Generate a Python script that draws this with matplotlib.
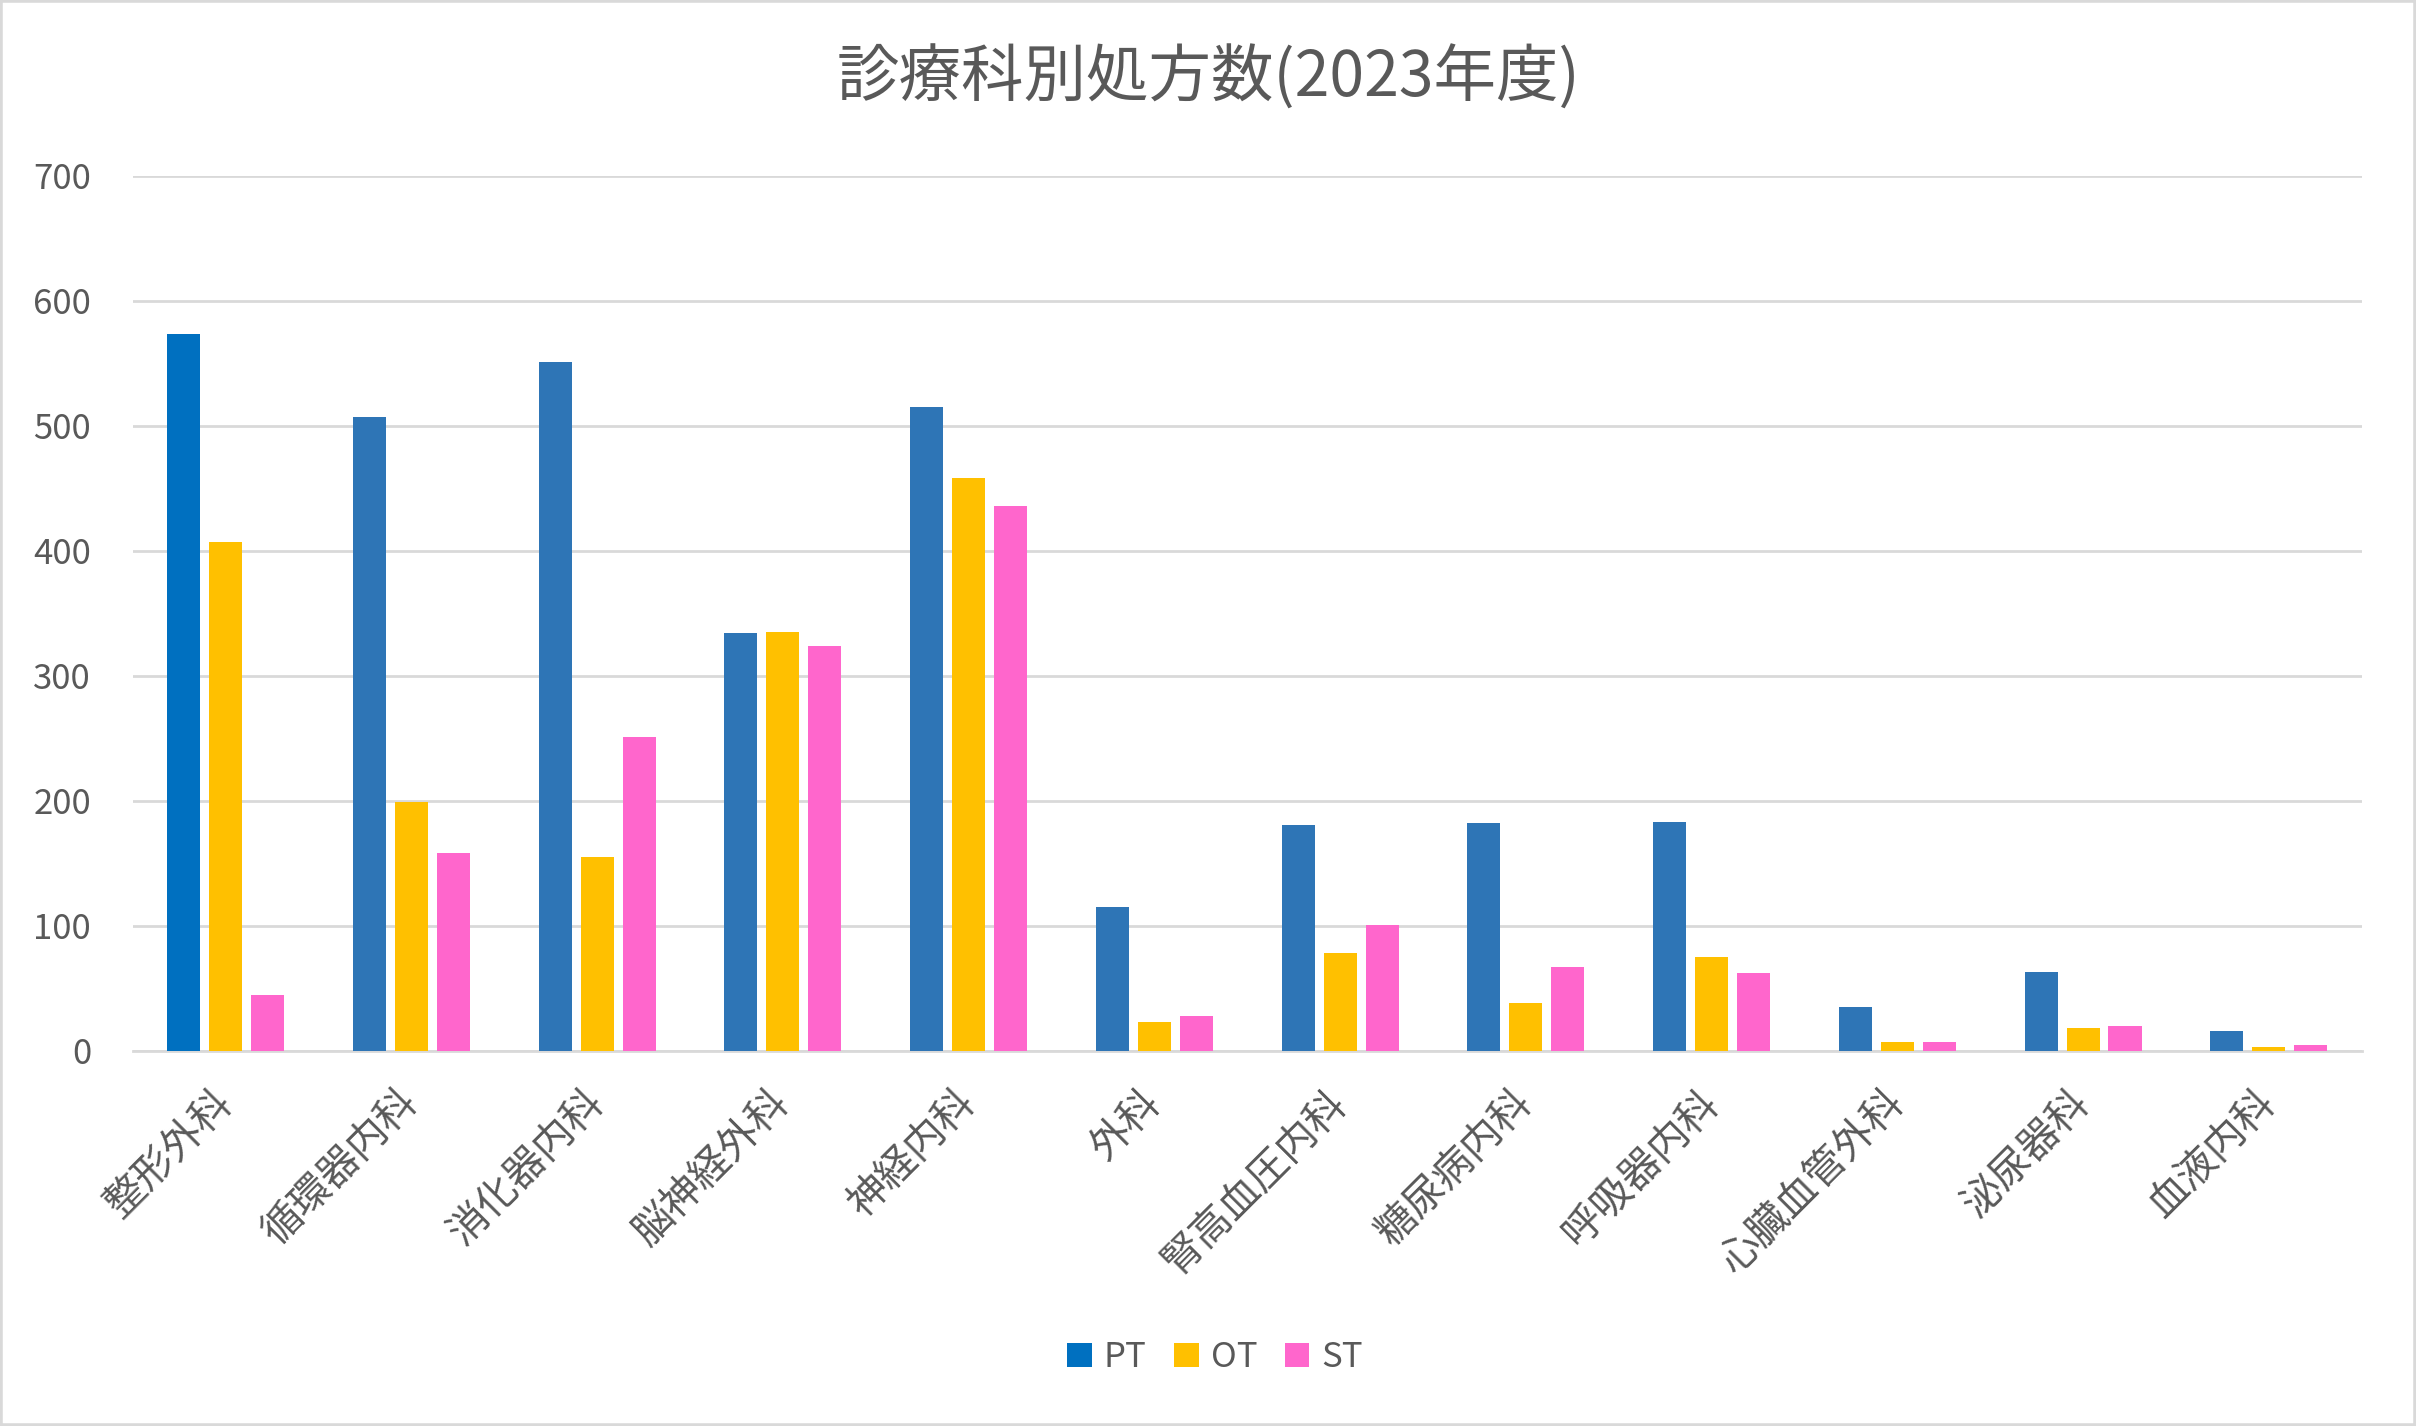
import matplotlib.pyplot as plt
import numpy as np
from matplotlib.patches import Rectangle

plt.rcParams['font.family'] = ['Noto Sans CJK JP', 'DejaVu Sans']

departments = ['整形外科', '循環器内科', '消化器内科', '脳神経外科', '神経内科', '外科',
               '腎高血圧内科', '糖尿病内科', '呼吸器内科', '心臓血管外科', '泌尿器科', '血液内科']
pt = [573, 507, 551, 334, 515, 115, 181, 182, 183, 35, 63, 16]
ot = [407, 199, 155, 335, 458, 23, 78, 38, 75, 7, 18, 3]
st = [45, 158, 251, 324, 436, 28, 101, 67, 62, 7, 20, 5]
yticks = [0, 100, 200, 300, 400, 500, 600, 700]


def main():
    text_color = '#595959'
    grid_color = '#D9D9D9'

    fig = plt.figure(figsize=(24.16, 14.26), dpi=100)
    ax = fig.add_axes([0.055, 0.263, 0.9225, 0.6138])

    x = np.arange(len(departments))
    width = 0.178
    step = 0.226

    pt_colors = ['#0070C0'] + ['#2E75B6'] * (len(pt) - 1)
    ax.bar(x - step, pt, width, color=pt_colors, label='PT', zorder=3)
    ax.bar(x, ot, width, color='#FFC000', label='OT', zorder=3)
    ax.bar(x + step, st, width, color='#FF66CC', label='ST', zorder=3)

    ax.set_xlim(-0.5, len(departments) - 0.5)
    ax.set_ylim(0, 700)
    ax.set_yticks(yticks)
    ax.set_yticklabels([str(v) for v in yticks])
    ax.yaxis.grid(True, color=grid_color, linewidth=2)
    ax.set_axisbelow(True)

    for side in ['top', 'right', 'left']:
        ax.spines[side].set_visible(False)
    ax.spines['bottom'].set_color(grid_color)
    ax.spines['bottom'].set_linewidth(2)

    ax.set_xticks(x)
    ax.set_xticklabels(departments, rotation=45, ha='right', va='center',
                       rotation_mode='anchor', fontsize=29, color=text_color)
    ax.tick_params(axis='x', length=0, pad=33)
    ax.tick_params(axis='y', length=0, pad=30, labelsize=25, labelcolor=text_color)

    fig.suptitle('診療科別処方数(2023年度)', fontsize=45, color=text_color, y=0.968)

    leg = fig.legend(loc='center', bbox_to_anchor=(0.503, 0.048), ncol=3, frameon=False,
                     fontsize=25, handlelength=0.7, handleheight=0.7,
                     handletextpad=0.35, columnspacing=0.8)
    for t in leg.get_texts():
        t.set_color(text_color)

    fig.patches.append(Rectangle((0, 0), 1, 1, transform=fig.transFigure, fill=False,
                                 edgecolor=grid_color, linewidth=4))

    fig.savefig('out.png', dpi=100)


if __name__ == "__main__":
    main()
